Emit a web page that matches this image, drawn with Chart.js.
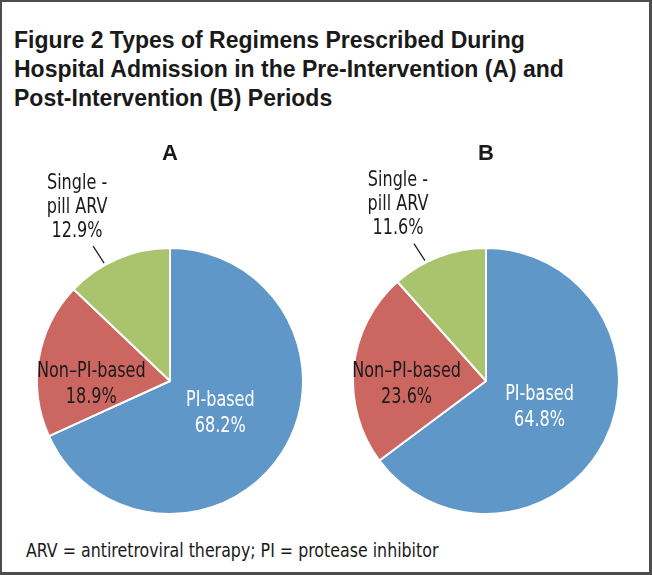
<!DOCTYPE html>
<html lang="en">
<head>
    <meta charset="UTF-8">
    <title>Figure 2 Types of Regimens</title>
    <script src="https://cdn.jsdelivr.net/npm/chart.js"></script>
    <style>
        html, body {
            margin: 0;
            padding: 0;
            background: #fff;
        }
        .frame {
            position: relative;
            width: 652px;
            height: 575px;
            box-sizing: border-box;
            border: 2px solid #4d4d4d;
            border-right-width: 3px;
            border-bottom-width: 3px;
            overflow: hidden;
        }
        .title {
            position: absolute;
            left: 12px;
            top: 24px;
            font-family: "Liberation Sans", Arial, sans-serif;
            font-weight: bold;
            font-size: 23px;
            line-height: 29px;
            color: #1a1a1a;
            white-space: nowrap;
        }
        .note {
            position: absolute;
            left: 24px;
            top: 536px;
            font-family: "DejaVu Sans Condensed", sans-serif;
            font-size: 20px;
            color: #1a1a1a;
            white-space: nowrap;
            transform: scaleX(0.88);
            transform-origin: left center;
        }
        canvas {
            position: absolute;
            top: 128px;
        }
        #chartA { left: 0; }
        #chartB { left: 324px; }
    </style>
</head>
<body>
    <div class="frame">
        <div class="title">Figure 2 Types of Regimens Prescribed During<br>Hospital Admission in the Pre-Intervention (A) and<br>Post-Intervention (B) Periods</div>
        <canvas id="chartA" width="326" height="400"></canvas>
        <canvas id="chartB" width="326" height="400"></canvas>
        <div class="note">ARV = antiretroviral therapy; PI = protease inhibitor</div>
    </div>

    <script>
        const categories = ['PI-based', 'Non\u2013PI-based', 'Single -\npill ARV'];
        const valuesA = [68.2, 18.9, 12.9];
        const valuesB = [64.8, 23.6, 11.6];
        const colors = ['#6097c9', '#cc6660', '#a9c46d'];

        const labelFont = '21px "DejaVu Sans Condensed", sans-serif';

        // narrow text: the original uses a condensed face
        function narrowText(ctx, t, x, y) {
            ctx.save();
            ctx.translate(x, y);
            ctx.scale(0.85, 1);
            ctx.fillText(t, 0, 0);
            ctx.restore();
        }

        // draws panel letter and slice labels from the arc elements
        const sliceLabels = {
            id: 'sliceLabels',
            afterDatasetsDraw(chart, args, opts) {
                const ctx = chart.ctx;
                const arcs = chart.getDatasetMeta(0).data;
                const values = chart.data.datasets[0].data;
                ctx.save();
                ctx.textAlign = 'center';
                ctx.textBaseline = 'middle';

                const cx = arcs[0].x;
                ctx.font = 'bold 22px "Liberation Sans", Arial, sans-serif';
                ctx.fillStyle = '#1a1a1a';
                ctx.fillText(opts.panel, cx, 24);

                ctx.font = labelFont;
                arcs.forEach((arc, i) => {
                    const p = arc.getProps(['x', 'y', 'startAngle', 'endAngle', 'outerRadius'], true);
                    const mid = (p.startAngle + p.endAngle) / 2;
                    const lines = chart.data.labels[i].split('\n');
                    lines.push(values[i].toFixed(1) + '%');
                    if (i === 2) {
                        // outside label with leader line
                        const a = mid - 6 * Math.PI / 180;
                        const x1 = p.x + Math.cos(a) * (p.outerRadius + 2);
                        const y1 = p.y + Math.sin(a) * (p.outerRadius + 2);
                        const x2 = x1 - 11;
                        const y2 = y1 - 17;
                        ctx.strokeStyle = '#1a1a1a';
                        ctx.lineWidth = 1.2;
                        ctx.beginPath();
                        ctx.moveTo(x1, y1);
                        ctx.lineTo(x2, y2);
                        ctx.stroke();
                        ctx.fillStyle = '#1a1a1a';
                        lines.forEach((t, k) => {
                            narrowText(ctx, t, x2 - 16, y2 - 15 - (lines.length - 1 - k) * 24);
                        });
                    } else {
                        const f = i === 0 ? 0.45 : 0.6;
                        const lx = p.x + Math.cos(mid) * p.outerRadius * f;
                        const ly = i === 0 ? p.y + Math.sin(mid) * p.outerRadius * f : p.y + 4;
                        ctx.fillStyle = i === 0 ? '#ffffff' : '#1a1a1a';
                        lines.forEach((t, k) => {
                            narrowText(ctx, t, lx, ly + (k - (lines.length - 1) / 2) * 26);
                        });
                    }
                });
                ctx.restore();
            }
        };

        function makePie(id, values, panel, padLeft, padRight) {
            return new Chart(document.getElementById(id), {
                type: 'pie',
                data: {
                    labels: categories,
                    datasets: [{
                        data: values,
                        backgroundColor: colors,
                        borderColor: '#ffffff',
                        borderWidth: 2
                    }]
                },
                options: {
                    responsive: false,
                    animation: false,
                    layout: { padding: { left: padLeft, right: padRight, top: 116, bottom: 14 } },
                    plugins: {
                        legend: { display: false },
                        tooltip: { enabled: false },
                        sliceLabels: { panel: panel }
                    }
                },
                plugins: [sliceLabels]
            });
        }

        makePie('chartA', valuesA, 'A', 34, 24);
        makePie('chartB', valuesB, 'B', 26, 32);
    </script>
</body>
</html>
